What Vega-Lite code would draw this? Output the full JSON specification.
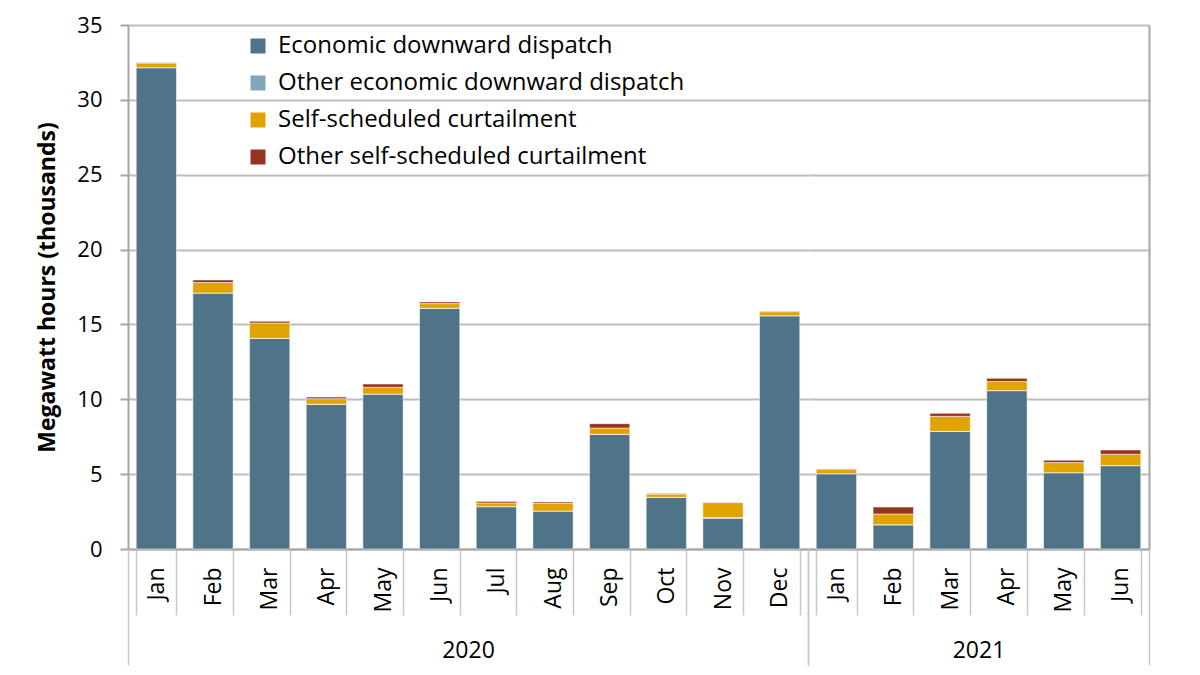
{
  "$schema": "https://vega.github.io/schema/vega-lite/v6.json",
  "background": "white",
  "padding": {"left": 36, "top": 14, "right": 5, "bottom": 5},
  "config": {
    "view": {"stroke": null},
    "font": "Open Sans",
    "axis": {"labelFont": "Open Sans", "titleFont": "Open Sans", "labelColor": "#000000", "titleColor": "#000000"},
    "legend": {"labelFont": "Open Sans", "labelColor": "#000000"}
  },
  "data": {
    "values": [
      {"year": "2020", "month": "Jan", "Economic downward dispatch": 32.15, "Other economic downward dispatch": 0, "Self-scheduled curtailment": 0.28, "Other self-scheduled curtailment": 0.05},
      {"year": "2020", "month": "Feb", "Economic downward dispatch": 17.1, "Other economic downward dispatch": 0, "Self-scheduled curtailment": 0.7, "Other self-scheduled curtailment": 0.17},
      {"year": "2020", "month": "Mar", "Economic downward dispatch": 14.07, "Other economic downward dispatch": 0, "Self-scheduled curtailment": 1.03, "Other self-scheduled curtailment": 0.11},
      {"year": "2020", "month": "Apr", "Economic downward dispatch": 9.67, "Other economic downward dispatch": 0, "Self-scheduled curtailment": 0.37, "Other self-scheduled curtailment": 0.11},
      {"year": "2020", "month": "May", "Economic downward dispatch": 10.35, "Other economic downward dispatch": 0, "Self-scheduled curtailment": 0.45, "Other self-scheduled curtailment": 0.22},
      {"year": "2020", "month": "Jun", "Economic downward dispatch": 16.08, "Other economic downward dispatch": 0, "Self-scheduled curtailment": 0.31, "Other self-scheduled curtailment": 0.11},
      {"year": "2020", "month": "Jul", "Economic downward dispatch": 2.83, "Other economic downward dispatch": 0, "Self-scheduled curtailment": 0.24, "Other self-scheduled curtailment": 0.1},
      {"year": "2020", "month": "Aug", "Economic downward dispatch": 2.54, "Other economic downward dispatch": 0, "Self-scheduled curtailment": 0.51, "Other self-scheduled curtailment": 0.09},
      {"year": "2020", "month": "Sep", "Economic downward dispatch": 7.66, "Other economic downward dispatch": 0, "Self-scheduled curtailment": 0.42, "Other self-scheduled curtailment": 0.29},
      {"year": "2020", "month": "Oct", "Economic downward dispatch": 3.45, "Other economic downward dispatch": 0, "Self-scheduled curtailment": 0.22, "Other self-scheduled curtailment": 0.03},
      {"year": "2020", "month": "Nov", "Economic downward dispatch": 2.05, "Other economic downward dispatch": 0.05, "Self-scheduled curtailment": 1.0, "Other self-scheduled curtailment": 0.03},
      {"year": "2020", "month": "Dec", "Economic downward dispatch": 15.58, "Other economic downward dispatch": 0, "Self-scheduled curtailment": 0.27, "Other self-scheduled curtailment": 0.03},
      {"year": "2021", "month": "Jan", "Economic downward dispatch": 5.03, "Other economic downward dispatch": 0, "Self-scheduled curtailment": 0.27, "Other self-scheduled curtailment": 0.04},
      {"year": "2021", "month": "Feb", "Economic downward dispatch": 1.62, "Other economic downward dispatch": 0, "Self-scheduled curtailment": 0.72, "Other self-scheduled curtailment": 0.46},
      {"year": "2021", "month": "Mar", "Economic downward dispatch": 7.86, "Other economic downward dispatch": 0, "Self-scheduled curtailment": 1.0, "Other self-scheduled curtailment": 0.2},
      {"year": "2021", "month": "Apr", "Economic downward dispatch": 10.58, "Other economic downward dispatch": 0, "Self-scheduled curtailment": 0.6, "Other self-scheduled curtailment": 0.22},
      {"year": "2021", "month": "May", "Economic downward dispatch": 5.1, "Other economic downward dispatch": 0, "Self-scheduled curtailment": 0.67, "Other self-scheduled curtailment": 0.16},
      {"year": "2021", "month": "Jun", "Economic downward dispatch": 5.57, "Other economic downward dispatch": 0, "Self-scheduled curtailment": 0.76, "Other self-scheduled curtailment": 0.28}
    ]
  },
  "transform": [
    {"fold": ["Economic downward dispatch", "Other economic downward dispatch", "Self-scheduled curtailment", "Other self-scheduled curtailment"], "as": ["series", "value"]},
    {"calculate": "indexof(['Economic downward dispatch', 'Other economic downward dispatch', 'Self-scheduled curtailment', 'Other self-scheduled curtailment'], datum.series)", "as": "stackOrder"}
  ],
  "spacing": 0,
  "bounds": "flush",
  "hconcat": [
    {
      "width": 680,
      "height": 524,
      "transform": [{"filter": "datum.year == '2020'"}],
      "layer": [
        {
          "mark": {"type": "bar", "stroke": "#ffffff", "strokeOpacity": 0.5, "strokeWidth": 1},
          "encoding": {
            "x": {
              "field": "month", "type": "ordinal",
              "sort": ["Jan", "Feb", "Mar", "Apr", "May", "Jun", "Jul", "Aug", "Sep", "Oct", "Nov", "Dec"],
              "scale": {"paddingInner": 0.29, "paddingOuter": 0.145},
              "axis": {"title": null, "orient": "bottom", "labelAngle": 270, "tickBand": "extent", "tickSize": 66, "labelPadding": -48, "labelFontSize": 23, "domainColor": "#a6a6a6", "domainWidth": 2, "tickColor": "#c8c8c8", "tickWidth": 1.5, "grid": false}
            },
            "y": {
              "field": "value", "type": "quantitative", "stack": "zero",
              "scale": {"domain": [0, 35], "nice": false},
              "axis": {"values": [0, 5, 10, 15, 20, 25, 30, 35], "title": "Megawatt hours (thousands)", "titleFontSize": 23, "titleFontWeight": "bold", "titlePadding": 17, "labelFontSize": 22, "labelPadding": 18, "gridColor": "#bdbdbd", "gridWidth": 2, "domainColor": "#a6a6a6", "domainWidth": 2, "tickColor": "#a6a6a6", "tickSize": 8, "tickWidth": 2}
            },
            "order": {"field": "stackOrder", "type": "quantitative", "sort": "ascending"},
            "color": {
              "field": "series", "type": "nominal",
              "scale": {"domain": ["Economic downward dispatch", "Other economic downward dispatch", "Self-scheduled curtailment", "Other self-scheduled curtailment"], "range": ["#4f7489", "#84a6b8", "#e0a300", "#953420"]},
              "legend": {"title": null, "orient": "none", "legendX": 118, "legendY": 9, "direction": "vertical", "symbolType": "square", "symbolSize": 225, "symbolStrokeWidth": 0, "labelFontSize": 24, "labelOffset": 8, "rowPadding": 13, "labelLimit": 600, "padding": 0}
            }
          }
        },
        {
          "mark": {"type": "bar", "opacity": 0},
          "encoding": {
            "x": {
              "field": "year", "type": "nominal",
              "scale": {"paddingInner": 0, "paddingOuter": 0},
              "axis": {"title": null, "orient": "bottom", "labelAngle": 0, "tickBand": "extent", "tickSize": 116, "domain": false, "labelPadding": -26, "labelFontSize": 23, "tickColor": "#c8c8c8", "tickWidth": 1.5, "grid": false}
            }
          }
        }
      ],
      "resolve": {"scale": {"x": "independent"}, "axis": {"x": "independent"}}
    },
    {
      "width": 341,
      "height": 524,
      "transform": [{"filter": "datum.year == '2021'"}],
      "layer": [
        {
          "mark": {"type": "bar", "stroke": "#ffffff", "strokeOpacity": 0.5, "strokeWidth": 1},
          "encoding": {
            "x": {
              "field": "month", "type": "ordinal",
              "sort": ["Jan", "Feb", "Mar", "Apr", "May", "Jun"],
              "scale": {"paddingInner": 0.29, "paddingOuter": 0.145},
              "axis": {"title": null, "orient": "bottom", "labelAngle": 270, "tickBand": "extent", "tickSize": 66, "labelPadding": -48, "labelFontSize": 23, "domainColor": "#a6a6a6", "domainWidth": 2, "tickColor": "#c8c8c8", "tickWidth": 1.5, "grid": false}
            },
            "y": {
              "field": "value", "type": "quantitative", "stack": "zero",
              "scale": {"domain": [0, 35], "nice": false},
              "axis": {"orient": "right", "values": [0, 5, 10, 15, 20, 25, 30, 35], "title": null, "labels": false, "ticks": false, "gridColor": "#bdbdbd", "gridWidth": 2, "domainColor": "#a6a6a6", "domainWidth": 2}
            },
            "order": {"field": "stackOrder", "type": "quantitative", "sort": "ascending"},
            "color": {
              "field": "series", "type": "nominal",
              "scale": {"domain": ["Economic downward dispatch", "Other economic downward dispatch", "Self-scheduled curtailment", "Other self-scheduled curtailment"], "range": ["#4f7489", "#84a6b8", "#e0a300", "#953420"]},
              "legend": null
            }
          }
        },
        {
          "mark": {"type": "bar", "opacity": 0},
          "encoding": {
            "x": {
              "field": "year", "type": "nominal",
              "scale": {"paddingInner": 0, "paddingOuter": 0},
              "axis": {"title": null, "orient": "bottom", "labelAngle": 0, "tickBand": "extent", "tickSize": 116, "domain": false, "labelPadding": -26, "labelFontSize": 23, "tickColor": "#c8c8c8", "tickWidth": 1.5, "grid": false}
            }
          }
        }
      ],
      "resolve": {"scale": {"x": "independent"}, "axis": {"x": "independent"}}
    }
  ],
  "resolve": {"scale": {"color": "independent", "y": "independent"}, "legend": {"color": "independent"}}
}
